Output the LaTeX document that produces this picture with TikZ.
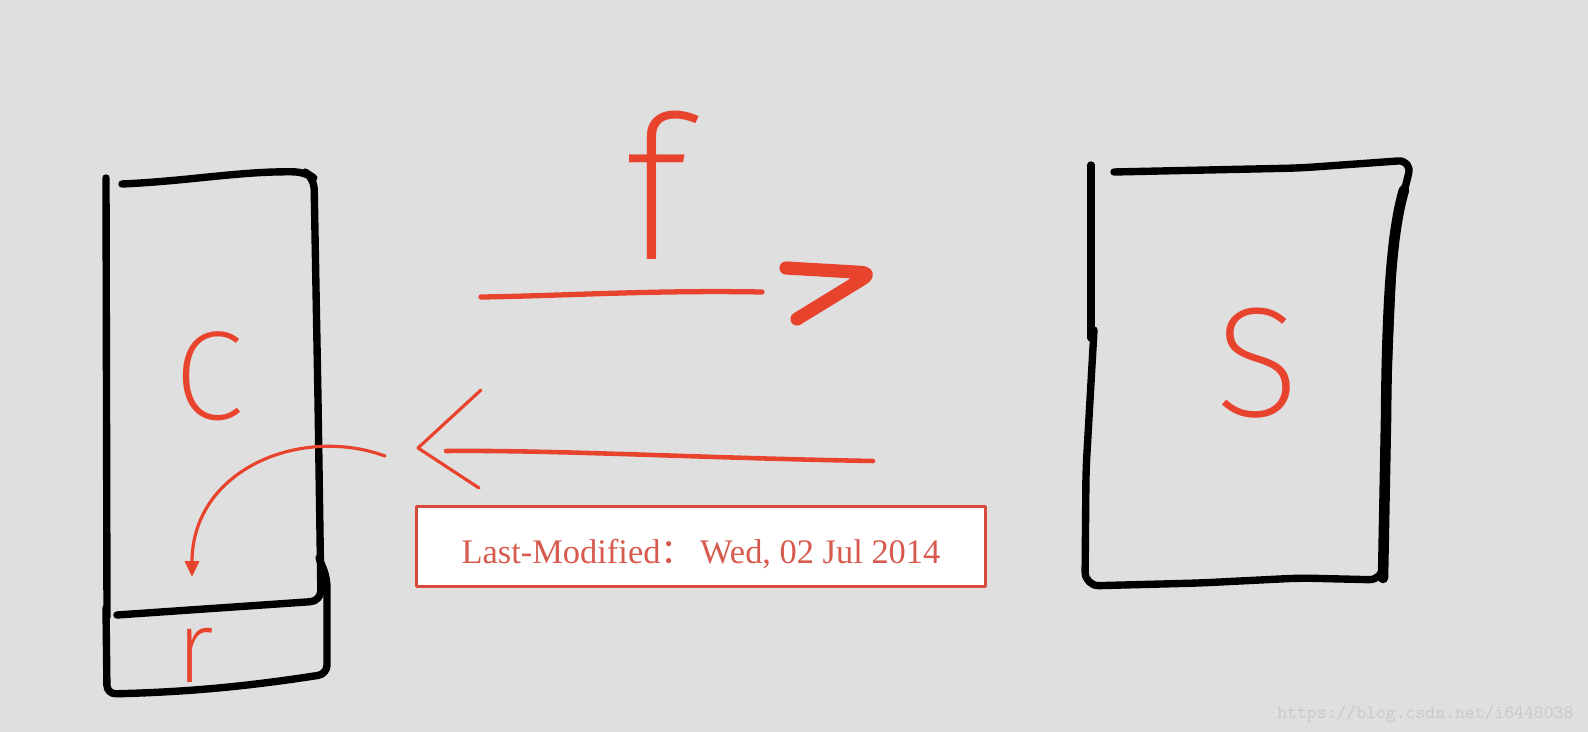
\documentclass[tikz,border=0pt]{standalone}
\usepackage{fontspec}
\setmainfont{Liberation Serif}
\newfontfamily\handfont{Fira Sans ExtraLight}
\newfontfamily\cjk{Noto Sans CJK SC}
\usetikzlibrary{arrows.meta, positioning}
\definecolor{sketchred}{HTML}{E8432D}
\definecolor{labelred}{HTML}{D64B3C}
\definecolor{labeltext}{HTML}{D65A4E}
\definecolor{paper}{HTML}{DFDFDF}
\definecolor{markgray}{HTML}{C9C9C9}

\begin{document}
\begin{tikzpicture}[x=0.02cm, y=-0.02cm, line cap=round, line join=round,
  pen/.style={black, line width=4.2pt},
  redpen/.style={sketchred, line width=2.6pt},
  letter/.style={text=sketchred, inner sep=0pt}]
\fill[paper] (0,0) rectangle (1588,732);

% client with its cache slot
\draw[pen] (106,178) -- (107,617);
\draw[pen, rounded corners=6pt] (122,184) .. controls (190,181) and (240,171) .. (305,172) -- (314,178) -- (318,400) -- (321,601) -- (117,615);
\draw[pen, rounded corners=5pt] (106,608) -- (107,694) .. controls (190,692) and (250,686) .. (327,674) -- (327,578) -- (319,558);

% server
\draw[pen] (1091,165) -- (1091,338);
\draw[pen, rounded corners=8pt] (1114,172) -- (1300,168) -- (1412,160) -- (1394,232) -- (1386,420) -- (1383,580) -- (1300,578) -- (1200,583) -- (1085,586) -- (1086,470) -- (1094,330);
\draw[pen, line width=6pt] (1404,190) .. controls (1392,230) and (1387,300) .. (1386,420) -- (1383,578);

\node[letter, font=\handfont\fontsize{72}{72}\selectfont] (client-c) at (209,376) {C};
\node[letter, font=\handfont\fontsize{58}{58}\selectfont] (cache-r) at (195,655) {r};
\node[letter, font=\handfont\fontsize{89}{89}\selectfont] (server-s) at (1257,363) {S};
\node[letter, font=\handfont\fontsize{114}{114}\selectfont] (req-f) at (656,185) {f};

\coordinate (req-tail) at (481,297);
\coordinate (req-tip) at (762,292);
\draw[redpen, line width=3pt] (req-tail) .. controls (560,296) and (650,290) .. (req-tip);
\draw[redpen, line width=7.5pt, rounded corners=6pt] (req-tip) ++(24,-24) -- ++(86,5) -- ++(-75,46);

\coordinate (resp-tail) at (873,461);
\coordinate (resp-tip) at (446,451);
\draw[redpen] (resp-tail) .. controls (700,458) and (560,450) .. (resp-tip);
\draw[redpen, line width=1.8pt] (resp-tip) ++(35,-61) -- ++(-63,58) -- ++(61,40);

\coordinate (cache-from) at (385,456);
\draw[redpen, line width=1.8pt, -{Triangle[length=9pt,width=8pt]}] (cache-from) .. controls (300,425) and (192,470) .. (192,577);

\node[draw=labelred, fill=white, line width=1.7pt, minimum width=11.4cm, minimum height=1.62cm, text height=18.8pt, text depth=0pt, text=labeltext, font=\fontsize{19.6}{24}\selectfont] (lm) at (701,546.5) {Last-Modified{\cjk ：}\hspace{3pt}Wed, 02 Jul 2014};

\node[text=markgray, font=\ttfamily\fontsize{10.7}{12}\selectfont, anchor=base west, inner sep=0pt] (mark) at (1277,718) {https://blog.csdn.net/i6448038};
\end{tikzpicture}
\end{document}
